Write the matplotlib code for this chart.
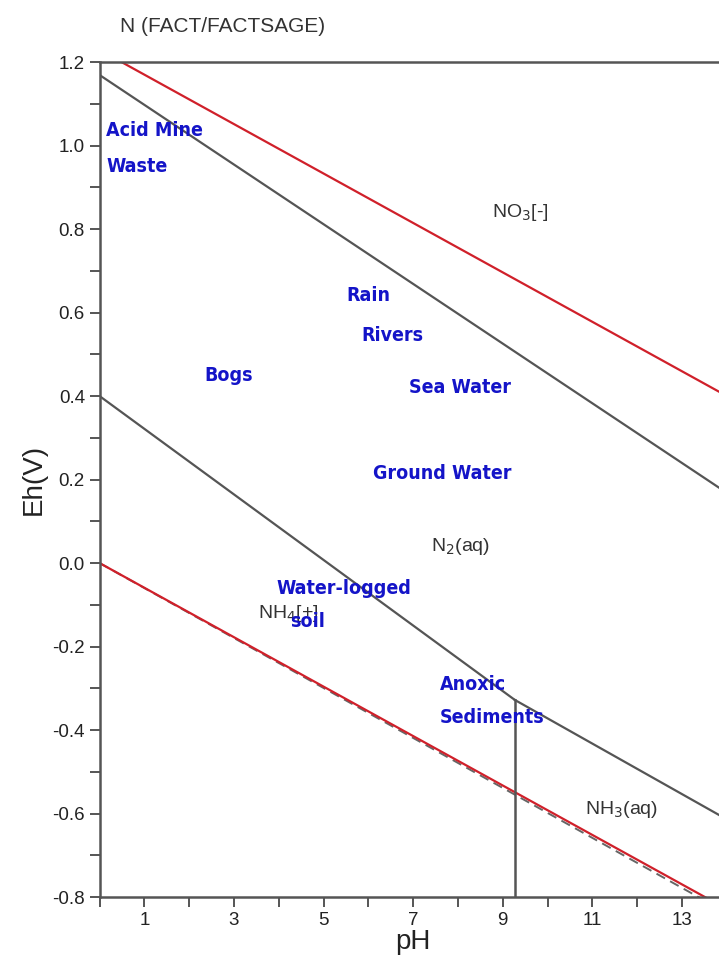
import matplotlib.pyplot as plt
from matplotlib.ticker import MultipleLocator, FixedLocator

plt.rcParams['font.family'] = ['Liberation Sans', 'DejaVu Sans']
plt.rcParams['axes.unicode_minus'] = False

# water stability limits
o2_ph = [0.0, 14.0]
o2_eh = [1.229, 0.40]
h2_ph = [0.0, 14.0]
h2_eh = [0.0, -0.829]
h2_dash_eh = [0.0, -0.838]

# species boundaries
no3_n2_ph = [0.0, 14.0]
no3_n2_eh = [1.169, 0.168]
n2_nh4_ph = [0.0, 9.27]
n2_nh4_eh = [0.40, -0.328]
n2_nh3_ph = [9.27, 14.0]
n2_nh3_eh = [-0.328, -0.614]
nh4_nh3_ph = [9.27, 9.27]
nh4_nh3_eh = [-0.8, -0.328]

species = ['NO$_3$[-]', 'N$_2$(aq)', 'NH$_4$[+]', 'NH$_3$(aq)']
species_ph = [9.4, 8.05, 4.2, 11.66]
species_eh = [0.84, 0.04, -0.12, -0.59]

envs = ['Acid Mine', 'Waste', 'Rain', 'Rivers', 'Bogs', 'Sea Water',
        'Ground Water', 'Water-logged', 'soil', 'Anoxic', 'Sediments']
envs_ph = [0.15, 0.15, 5.5, 5.85, 2.35, 6.9, 6.1, 3.95, 4.25, 7.6, 7.6]
envs_eh = [1.035, 0.95, 0.64, 0.545, 0.45, 0.42, 0.215, -0.06, -0.14, -0.29, -0.37]

fig = plt.figure(figsize=(7.19, 9.66), dpi=100)
ax = fig.add_axes([0.1384, 0.0714, 0.8725, 0.8644])

gray = '#555555'
ax.plot(o2_ph, o2_eh, color='#d0202a', lw=1.6)
ax.plot(h2_ph, h2_dash_eh, color='#666666', lw=1.4, ls=(0, (5, 3)))
ax.plot(h2_ph, h2_eh, color='#d0202a', lw=1.6)
ax.plot(no3_n2_ph, no3_n2_eh, color=gray, lw=1.6)
ax.plot(n2_nh4_ph, n2_nh4_eh, color=gray, lw=1.6)
ax.plot(n2_nh3_ph, n2_nh3_eh, color=gray, lw=1.6)
ax.plot(nh4_nh3_ph, nh4_nh3_eh, color=gray, lw=1.8)

for s, x, y in zip(species, species_ph, species_eh):
    ax.text(x, y, s, ha='center', va='center', fontsize=14, color='#333333')

for s, x, y in zip(envs, envs_ph, envs_eh):
    ax.text(x, y, s, ha='left', va='center', fontsize=14, color='#1414c8',
            fontweight='heavy', fontstretch='condensed',
            family=['DejaVu Sans', 'Liberation Sans'])

ax.set_xlim(0, 14)
ax.set_ylim(-0.8, 1.2)
ax.xaxis.set_major_locator(FixedLocator([1, 3, 5, 7, 9, 11, 13]))
ax.xaxis.set_minor_locator(MultipleLocator(1))
ax.yaxis.set_major_locator(MultipleLocator(0.2))
ax.yaxis.set_minor_locator(MultipleLocator(0.1))
ax.yaxis.set_major_formatter(plt.FuncFormatter(lambda v, p: f'{v:.1f}'))
ax.tick_params(which='both', direction='out', length=7, width=1.4,
               color=gray, labelsize=13.5, labelcolor='#222222')
ax.spines['right'].set_visible(False)
for side in ['left', 'bottom', 'top']:
    ax.spines[side].set_color(gray)
    ax.spines[side].set_linewidth(1.8)

ax.set_xlabel('pH', fontsize=20, color='#222222', labelpad=0)
ax.set_ylabel('Eh(V)', fontsize=20, color='#222222', labelpad=4)
fig.text(120 / 719, 1 - 27 / 966, 'N (FACT/FACTSAGE)', fontsize=15,
         color='#333333', ha='left', va='center')

fig.savefig('out.png', dpi=100)
